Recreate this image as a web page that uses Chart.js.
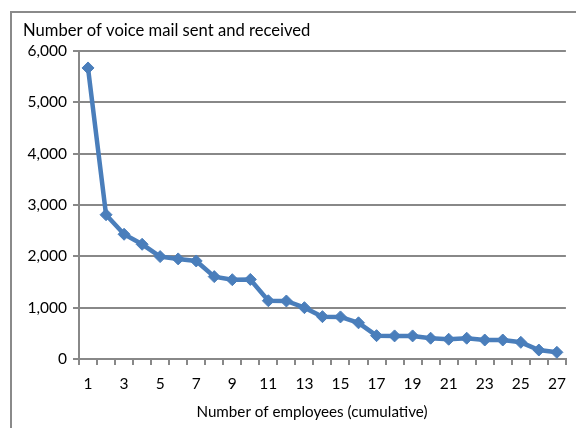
<!DOCTYPE html>
<html><head><meta charset="utf-8">
<script src="https://cdn.jsdelivr.net/npm/chart.js@4/dist/chart.umd.min.js"></script>
<style>
html,body{margin:0;padding:0;background:#fff;}
#wrap{position:relative;width:576px;height:428px;overflow:hidden;}
#frame{position:absolute;left:10px;top:11px;width:700px;height:600px;border-left:2px solid #8a8a8a;border-top:2px solid #8a8a8a;}
canvas{position:absolute;left:0;top:0;}
</style></head><body>
<div id="wrap"><div id="frame"></div><canvas id="c" width="576" height="428"></canvas></div>
<script>
const categories = ['1','2','3','4','5','6','7','8','9','10','11','12','13','14','15','16','17','18','19','20','21','22','23','24','25','26','27'];
const voiceMail = [5670,2810,2430,2235,1995,1950,1910,1605,1545,1550,1135,1130,1000,825,820,705,455,450,450,405,385,405,370,370,325,175,130];
const yTicks = [0,1000,2000,3000,4000,5000,6000];
const yTitle = 'Number of voice mail sent and received';
const xTitle = 'Number of employees (cumulative)';
const FONT = 'Lato';
const GRAY = '#888888';

const titles = {
  id:'titles',
  afterDraw(chart){
    const ctx = chart.ctx;
    ctx.save();
    ctx.fillStyle = '#000';
    ctx.textBaseline = 'alphabetic';
    ctx.textAlign = 'left';
    ctx.font = '16.6px ' + FONT;
    ctx.fillText(yTitle, 23, 36);
    ctx.textAlign = 'center';
    ctx.font = '15.2px ' + FONT;
    ctx.fillText(xTitle, 312, 417);
    ctx.restore();
  }
};

new Chart(document.getElementById('c'), {
  type:'line',
  data:{labels:categories, datasets:[{
    data:voiceMail,
    borderColor:'#4a7ebb', backgroundColor:'#4a7ebb',
    borderWidth:4.5, pointStyle:'rectRot', pointRadius:6, pointHoverRadius:6,
    pointBorderWidth:1, tension:0
  }]},
  options:{
    responsive:false, animation:false,
    layout:{padding:{left:0,top:51,right:7,bottom:0}},
    plugins:{legend:{display:false}, tooltip:{enabled:false}, title:{display:false}},
    scales:{
      x:{
        offset:true,
        grid:{offset:true, drawOnChartArea:false, drawTicks:true, tickLength:6, color:GRAY, lineWidth:2},
        border:{color:GRAY, width:2},
        ticks:{autoSkip:false, maxRotation:0, color:'#000', font:{family:FONT,size:15.5}, padding:10,
          callback:function(v,i){ return i%2===0 ? categories[i] : ''; }},
        afterFit(s){ s.height = 69; }
      },
      y:{
        min:0, max:6000,
        afterBuildTicks(s){ s.ticks = yTicks.map(v=>({value:v})); },
        grid:{color:GRAY, lineWidth:2, drawTicks:true, tickLength:6},
        border:{color:GRAY, width:2},
        ticks:{color:'#000', font:{family:FONT,size:15.5}, padding:6,
          callback:function(v){ return v.toLocaleString('en-US'); }},
        afterFit(s){ s.width = 79; }
      }
    }
  },
  plugins:[titles]
});
</script></body></html>
